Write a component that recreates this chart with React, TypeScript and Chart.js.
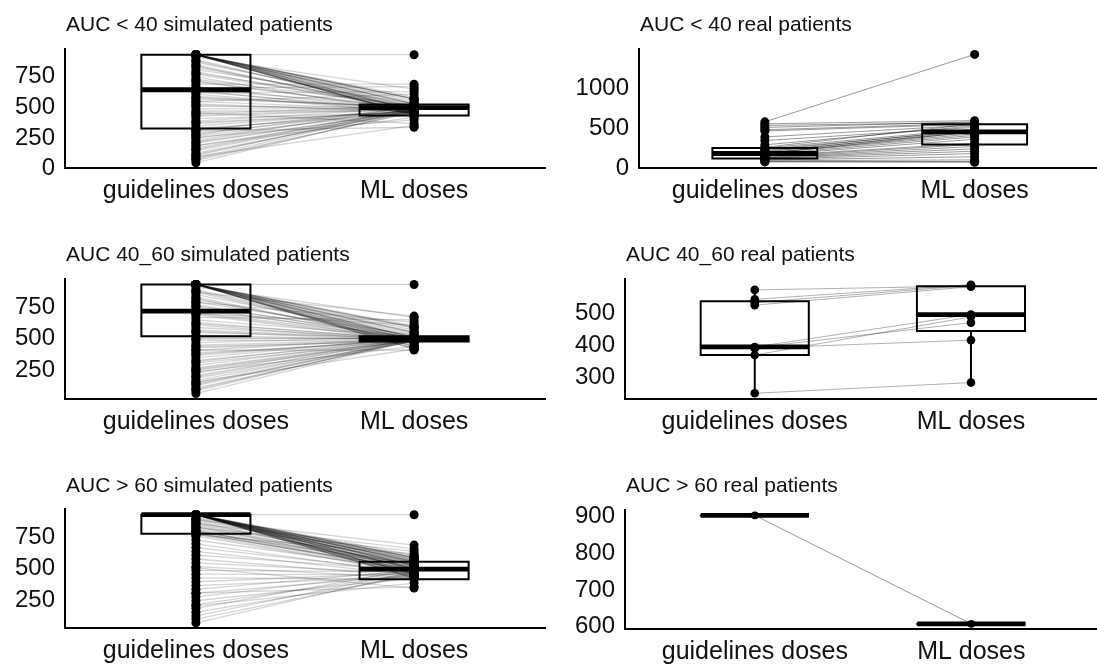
import React, { useEffect, useRef } from "react";
import { Chart, registerables } from "chart.js";

Chart.register(...registerables);

// ---------- shared labels ----------
const CATEGORIES = ["guidelines doses", "ML doses"];

// ---------- AUC < 40 simulated patients ----------
const sim40Title = "AUC < 40 simulated patients";
const sim40Guidelines = [
  920, 920, 920, 920, 920, 920, 920, 920, 920, 920, 920, 920, 920, 920,
  920, 920, 920, 920, 920, 920, 920, 920, 920, 920,
  900, 880, 860, 840, 820, 800, 780, 760, 740, 720, 700, 680, 660, 640, 620, 600, 580, 560, 540, 520, 500, 480,
  460, 440, 420, 400, 380, 360, 340, 320, 300, 280, 260, 240, 220, 200, 180, 160, 140, 120, 100, 80, 60, 40,
  650, 610, 540, 450, 300, 250, 180, 90,
  870, 830, 770, 710, 630, 570, 510, 430, 370, 310, 270, 210, 150, 110, 70,
];
const sim40ML = [
  920, 575, 560, 545, 530, 520, 505, 495, 485, 470, 455, 440, 430, 420,
  560, 560, 560, 520, 520, 470, 470, 430, 430, 430,
  640, 470, 500, 455, 480, 520, 470, 490, 440, 505, 480, 680, 460, 495, 470, 450, 485, 500, 470, 455, 490, 480,
  465, 500, 475, 450, 485, 460, 470, 440, 490, 470, 455, 480, 500, 465, 450, 485, 470, 460, 490, 475, 455, 470,
  660, 620, 600, 360, 330, 390, 410, 345,
  480, 460, 500, 470, 445, 490, 465, 480, 455, 470, 495, 460, 480, 470, 450,
];
// [lower whisker, Q1, median, Q3, upper whisker]
const sim40GuidelinesBox = [40, 320, 635, 920, 920];
const sim40MLBox = [330, 425, 490, 515, 640];
const sim40Ticks = [0, 250, 500, 750];

// ---------- AUC < 40 real patients ----------
const real40Title = "AUC < 40 real patients";
const real40Guidelines = [
  570, 545, 525, 500, 470, 455, 380, 335, 280, 250, 240, 225, 210, 200, 190,
  180, 175, 170, 160, 150, 140, 130, 120, 115, 110, 100, 90, 80, 70, 65,
];
const real40ML = [
  1420, 585, 560, 570, 550, 540, 530, 500, 520, 545, 480, 460, 470, 440, 455,
  420, 400, 445, 380, 350, 300, 285, 260, 230, 200, 170, 130, 90, 70, 60,
];
const real40GuidelinesBox = [65, 109, 171, 239, 380];
const real40MLBox = [60, 285, 444, 539, 585];
const real40Ticks = [0, 500, 1000];

// ---------- AUC 40_60 simulated patients ----------
const sim4060Title = "AUC 40_60 simulated patients";
const sim4060Guidelines = [
  920, 920, 920, 920, 920, 920, 920, 920, 920, 920, 920, 920, 920, 920, 920,
  920, 920, 920, 920, 920, 920, 920, 920, 920, 920,
  900, 880, 860, 840, 820, 800, 780, 760, 740, 720, 700, 680, 660, 640, 620, 600, 580, 560, 540, 520, 500, 480,
  460, 440, 420, 400, 380, 360, 340, 320, 300, 280, 260, 240, 220, 200, 180, 160, 140, 120, 100, 80, 58,
  860, 780, 690, 230, 150, 400,
  870, 810, 750, 690, 610, 550, 490, 430, 370, 310, 250, 190, 130, 90,
];
const sim4060ML = [
  920, 590, 575, 560, 545, 530, 515, 500, 490, 480, 470, 455, 440, 425, 410,
  580, 580, 540, 540, 500, 500, 430, 430, 410, 410,
  660, 500, 480, 510, 470, 495, 520, 485, 470, 500, 490, 475, 640, 505, 480, 470, 495, 485, 500, 475, 490, 470,
  505, 485, 480, 495, 470, 490, 500, 480, 470, 495, 485, 475, 500, 490, 470, 485, 480, 495, 475, 490, 480,
  670, 620, 600, 430, 410, 402,
  485, 470, 500, 480, 490, 475, 495, 470, 485, 500, 480, 490, 475, 485,
];
const sim4060GuidelinesBox = [58, 510, 710, 920, 920];
const sim4060MLBox = [405, 470, 490, 510, 560];
const sim4060Ticks = [250, 500, 750];

// ---------- AUC 40_60 real patients ----------
const real4060Title = "AUC 40_60 real patients";
const real4060Guidelines = [568, 539, 529, 521, 392, 390, 388, 367, 249];
const real4060ML = [580, 584, 582, 578, 492, 467, 413, 485, 282];
const real4060GuidelinesBox = [249, 367, 392, 533, 568];
const real4060MLBox = [282, 441, 492, 579, 584];
const real4060Ticks = [300, 400, 500];

// ---------- AUC > 60 simulated patients ----------
const sim60Title = "AUC > 60 simulated patients";
const sim60Guidelines = [
  920, 920, 920, 920, 920, 920, 920, 920, 920, 920, 920, 920, 920, 920, 920, 920, 920, 920, 920, 920,
  920, 920, 920, 920, 920, 920, 920, 920, 920, 920, 920, 920, 920, 920, 920, 920, 920,
  900, 880, 860, 840, 820, 800, 790, 780, 770, 750, 720, 690, 660, 630, 600, 570, 540, 510, 480, 450,
  420, 390, 360, 330, 300, 270, 240, 210, 180, 150, 120, 95, 65,
  880, 850, 820, 760, 300, 200, 500,
  910, 890, 870, 850, 830, 810, 795, 785, 775, 765,
];
const sim60ML = [
  920, 600, 590, 580, 570, 560, 550, 540, 530, 520, 510, 500, 490, 480, 470, 460, 450, 440, 430, 420,
  580, 580, 580, 550, 550, 550, 520, 520, 520, 490, 490, 490, 450, 450, 450, 420, 420,
  560, 540, 520, 500, 530, 480, 510, 470, 495, 460, 485, 450, 470, 440, 480, 430, 455, 420, 470, 445,
  410, 460, 430, 480, 440, 470, 420, 455, 490, 430, 470, 445, 460,
  680, 650, 630, 610, 350, 380, 340,
  570, 540, 500, 520, 480, 510, 470, 530, 490, 460,
];
const sim60GuidelinesBox = [550, 770, 920, 920, 920];
const sim60MLBox = [340, 410, 490, 548, 680];
const sim60Ticks = [250, 500, 750];

// ---------- AUC > 60 real patients ----------
const real60Title = "AUC > 60 real patients";
const real60Guidelines = [900];
const real60ML = [605];
const real60GuidelinesBox = [900, 900, 900, 900, 900];
const real60MLBox = [605, 605, 605, 605, 605];
const real60Ticks = [600, 700, 800, 900];

// ---------- drawing helpers ----------
const FONT_FAMILY = '"Liberation Sans", Arial, Helvetica, sans-serif';
const BOX_HALF = 0.25;

const titlePlugin = {
  id: "panelTitle",
  afterDraw(chart: any, _args: any, opts: any) {
    const { ctx, chartArea } = chart;
    ctx.save();
    ctx.font = `21px ${FONT_FAMILY}`;
    ctx.fillStyle = "#111";
    ctx.textBaseline = "alphabetic";
    ctx.textAlign = "left";
    ctx.fillText(opts.text, chartArea.left + 1, opts.y);
    ctx.restore();
  },
};

function boxDatasets(x: number, b: number[]) {
  const [lo, q1, med, q3, hi] = b;
  const base = {
    type: "scatter",
    showLine: true,
    borderColor: "#000",
    pointRadius: 0,
    pointHoverRadius: 0,
    fill: false,
    order: 2,
  };
  return [
    {
      ...base,
      data: [
        { x: x - BOX_HALF, y: q1 },
        { x: x + BOX_HALF, y: q1 },
        { x: x + BOX_HALF, y: q3 },
        { x: x - BOX_HALF, y: q3 },
        { x: x - BOX_HALF, y: q1 },
      ],
      borderWidth: 2,
      borderCapStyle: "square",
      borderJoinStyle: "miter",
    },
    { ...base, data: [{ x, y: q3 }, { x, y: hi }], borderWidth: 2 },
    { ...base, data: [{ x, y: lo }, { x, y: q1 }], borderWidth: 2 },
    {
      ...base,
      data: [
        { x: x - BOX_HALF, y: med },
        { x: x + BOX_HALF, y: med },
      ],
      borderWidth: 4.8,
      borderCapStyle: "butt",
    },
  ];
}

type PanelProps = {
  left: number;
  top: number;
  width: number;
  height: number;
  axisLeft: number;
  areaTop: number;
  areaBottom: number;
  rightPad: number;
  title: string;
  titleY: number;
  guidelines: number[];
  ml: number[];
  guidelinesBox: number[];
  mlBox: number[];
  ticks: number[];
  lineColor: string;
  lineWidth: number;
  pointRadius: number;
};

function Panel(p: PanelProps) {
  const ref = useRef<HTMLCanvasElement | null>(null);

  useEffect(() => {
    if (!ref.current) return;
    const all = [...p.guidelines, ...p.ml];
    const lo = Math.min(...all);
    const hi = Math.max(...all);
    const pad = (hi - lo) * 0.05;

    const n = Math.min(p.guidelines.length, p.ml.length);
    const pairLines: any[] = [];
    for (let i = 0; i < n; i++) {
      pairLines.push({
        type: "scatter",
        showLine: true,
        data: [
          { x: 1, y: p.guidelines[i] },
          { x: 2, y: p.ml[i] },
        ],
        borderColor: p.lineColor,
        borderWidth: p.lineWidth,
        pointRadius: 0,
        pointHoverRadius: 0,
        order: 1,
      });
    }

    const points = {
      type: "scatter",
      data: [
        ...p.guidelines.map((y) => ({ x: 1, y })),
        ...p.ml.map((y) => ({ x: 2, y })),
      ],
      pointRadius: p.pointRadius,
      pointHoverRadius: p.pointRadius,
      backgroundColor: "#000",
      borderWidth: 0,
      order: 0,
    };

    const chart = new Chart(ref.current, {
      type: "scatter",
      data: {
        datasets: [
          points,
          ...pairLines,
          ...boxDatasets(1, p.guidelinesBox),
          ...boxDatasets(2, p.mlBox),
        ] as any,
      },
      plugins: [titlePlugin as any],
      options: {
        animation: false,
        responsive: false,
        maintainAspectRatio: false,
        events: [],
        layout: { padding: { top: p.areaTop, right: p.rightPad, bottom: 0, left: 0 } },
        plugins: {
          legend: { display: false },
          tooltip: { enabled: false },
          title: { display: false },
          panelTitle: { text: p.title, y: p.titleY },
        } as any,
        scales: {
          x: {
            type: "linear",
            min: 0.4,
            max: 2.6,
            grid: { display: false, drawTicks: false },
            border: { display: true, color: "#000", width: 2 },
            ticks: {
              autoSkip: false,
              maxRotation: 0,
              padding: 8,
              color: "#111",
              font: { family: FONT_FAMILY, size: 25 },
              callback: (v: any) => (v === 1 ? CATEGORIES[0] : v === 2 ? CATEGORIES[1] : ""),
            },
            afterBuildTicks: (s: any) => {
              s.ticks = [{ value: 1 }, { value: 2 }];
            },
            afterFit: (s: any) => {
              s.height = p.height - p.areaBottom;
            },
          },
          y: {
            type: "linear",
            min: lo - pad,
            max: hi + pad,
            grid: { display: false, drawTicks: false },
            border: { display: true, color: "#000", width: 2 },
            ticks: {
              padding: 10,
              labelOffset: 1,
              color: "#111",
              font: { family: FONT_FAMILY, size: 24 },
              callback: (v: any) => String(v),
            },
            afterBuildTicks: (s: any) => {
              s.ticks = p.ticks.map((v) => ({ value: v }));
            },
            afterFit: (s: any) => {
              s.width = p.axisLeft;
            },
          },
        },
      } as any,
    });
    return () => chart.destroy();
  }, []);

  return (
    <canvas
      ref={ref}
      width={p.width}
      height={p.height}
      style={{ position: "absolute", left: p.left, top: p.top, width: p.width, height: p.height }}
    />
  );
}

const SIM_LINE = "rgba(0,0,0,0.17)";

const PANELS: PanelProps[] = [
  {
    left: 0, top: 0, width: 560, height: 220, axisLeft: 65, areaTop: 49.3, areaBottom: 168.3, rightPad: 15,
    title: sim40Title, titleY: 31, guidelines: sim40Guidelines, ml: sim40ML,
    guidelinesBox: sim40GuidelinesBox, mlBox: sim40MLBox, ticks: sim40Ticks,
    lineColor: SIM_LINE, lineWidth: 1.3, pointRadius: 4.5,
  },
  {
    left: 560, top: 0, width: 545, height: 220, axisLeft: 79, areaTop: 49, areaBottom: 167.7, rightPad: 1.4,
    title: real40Title, titleY: 31, guidelines: real40Guidelines, ml: real40ML,
    guidelinesBox: real40GuidelinesBox, mlBox: real40MLBox, ticks: real40Ticks,
    lineColor: "rgba(0,0,0,0.5)", lineWidth: 0.8, pointRadius: 4.5,
  },
  {
    left: 0, top: 230, width: 560, height: 220, axisLeft: 65, areaTop: 49, areaBottom: 169, rightPad: 15,
    title: sim4060Title, titleY: 31, guidelines: sim4060Guidelines, ml: sim4060ML,
    guidelinesBox: sim4060GuidelinesBox, mlBox: sim4060MLBox, ticks: sim4060Ticks,
    lineColor: SIM_LINE, lineWidth: 1.3, pointRadius: 4.5,
  },
  {
    left: 560, top: 230, width: 545, height: 220, axisLeft: 65, areaTop: 49.3, areaBottom: 168.7, rightPad: 1.4,
    title: real4060Title, titleY: 31, guidelines: real4060Guidelines, ml: real4060ML,
    guidelinesBox: real4060GuidelinesBox, mlBox: real4060MLBox, ticks: real4060Ticks,
    lineColor: "rgba(0,0,0,0.35)", lineWidth: 0.9, pointRadius: 4.3,
  },
  {
    left: 0, top: 460, width: 560, height: 220, axisLeft: 65, areaTop: 49.3, areaBottom: 168.3, rightPad: 15,
    title: sim60Title, titleY: 32, guidelines: sim60Guidelines, ml: sim60ML,
    guidelinesBox: sim60GuidelinesBox, mlBox: sim60MLBox, ticks: sim60Ticks,
    lineColor: SIM_LINE, lineWidth: 1.3, pointRadius: 4.5,
  },
  {
    left: 560, top: 460, width: 545, height: 220, axisLeft: 65, areaTop: 50, areaBottom: 169.3, rightPad: 1.4,
    title: real60Title, titleY: 32, guidelines: real60Guidelines, ml: real60ML,
    guidelinesBox: real60GuidelinesBox, mlBox: real60MLBox, ticks: real60Ticks,
    lineColor: "rgba(0,0,0,0.4)", lineWidth: 1, pointRadius: 3.8,
  },
];

export default function App() {
  return (
    <div
      style={{
        position: "fixed",
        left: 0,
        top: 0,
        width: 1097,
        height: 666,
        overflow: "hidden",
        background: "#fff",
      }}
    >
      {PANELS.map((p, i) => (
        <Panel key={i} {...p} />
      ))}
    </div>
  );
}
